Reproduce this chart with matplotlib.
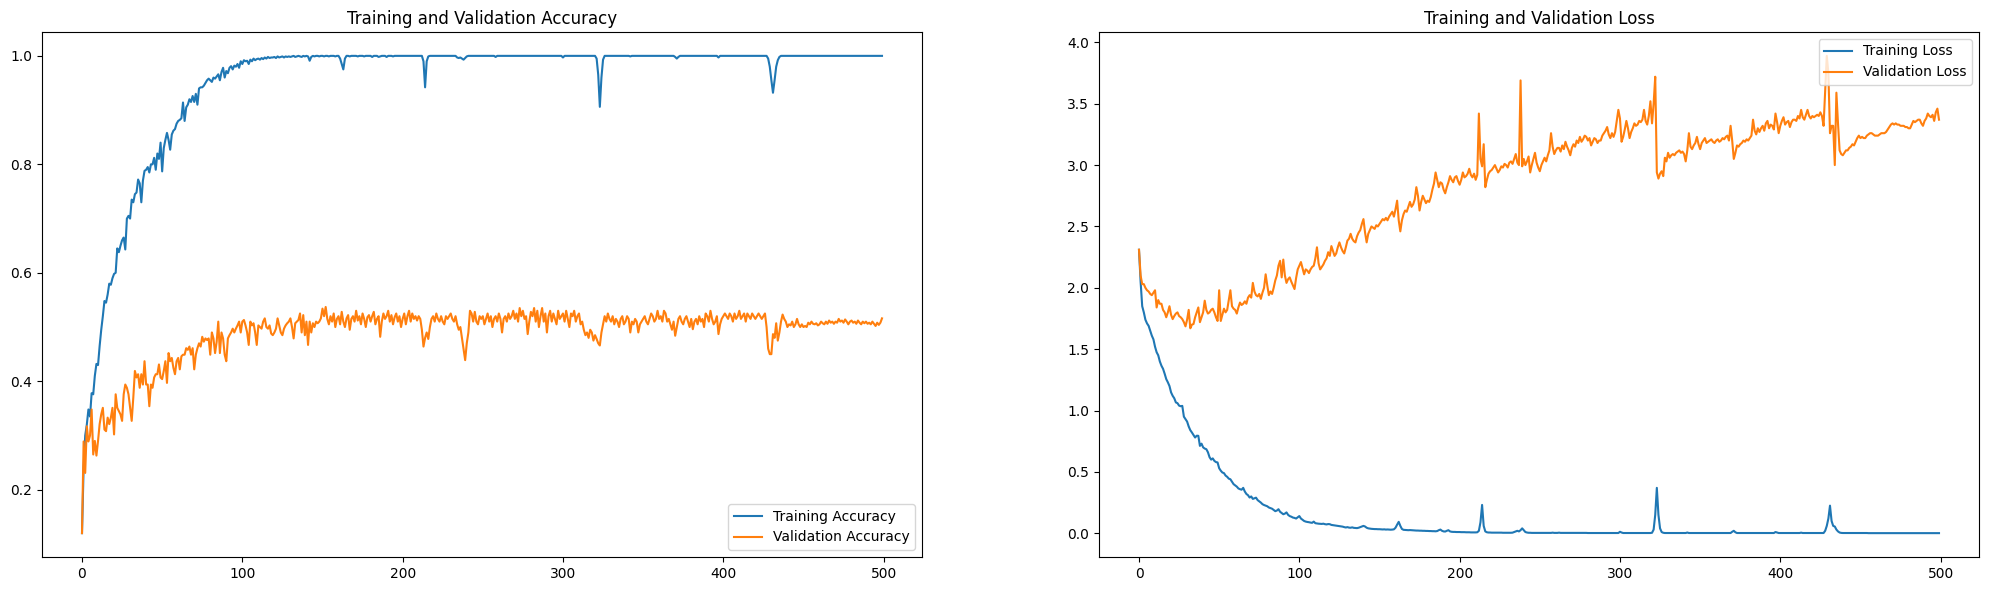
import numpy as np
import matplotlib
matplotlib.use('Agg')
import matplotlib.pyplot as plt

# values, one per epoch (500 epochs)
train_acc = [
    0.12, 0.24, 0.30, 0.32, 0.348, 0.335, 0.378, 0.376, 0.41, 0.432,
    0.43, 0.465, 0.495, 0.52, 0.548, 0.545, 0.56, 0.58, 0.578, 0.59,
    0.598, 0.60, 0.645, 0.638, 0.65, 0.66, 0.665, 0.643, 0.70, 0.705,
    0.70, 0.735, 0.73, 0.745, 0.748, 0.772, 0.765, 0.73, 0.77, 0.788,
    0.79, 0.795, 0.785, 0.80, 0.80, 0.812, 0.79, 0.82, 0.81, 0.84,
    0.787, 0.83, 0.845, 0.858, 0.845, 0.827, 0.855, 0.862, 0.865, 0.875,
    0.88, 0.882, 0.885, 0.914, 0.88, 0.905, 0.91, 0.92, 0.915, 0.926,
    0.915, 0.93, 0.91, 0.94, 0.942, 0.942, 0.945, 0.95, 0.955, 0.958,
    0.955, 0.952, 0.96, 0.958, 0.962, 0.966, 0.955, 0.97, 0.978, 0.96,
    0.972, 0.968, 0.978, 0.981, 0.975, 0.982, 0.98, 0.985, 0.978, 0.99,
    0.985, 0.992, 0.99, 0.991, 0.985, 0.993, 0.99, 0.995, 0.992, 0.994,
    0.995, 0.993, 0.996, 0.994, 0.997, 0.995, 0.998, 0.996, 0.997, 0.997,
    0.998, 0.996, 0.999, 0.997, 0.998, 0.999, 0.997, 0.999, 0.998, 0.999,
    0.998, 0.999, 1.0, 0.998, 0.999, 1.0, 0.999, 0.998, 1.0, 0.999,
    1.0, 0.999, 0.991, 0.998, 1.0, 0.999, 1.0, 1.0, 0.999, 1.0,
    1.0, 0.999, 1.0, 1.0, 0.999, 1.0, 1.0, 1.0, 0.999, 1.0,
    1.0, 0.995, 0.985, 0.975, 0.995, 1.0, 1.0, 0.999, 1.0, 1.0,
    1.0, 1.0, 0.999, 1.0, 1.0, 1.0, 0.999, 1.0, 1.0, 1.0,
    1.0, 0.998, 1.0, 1.0, 1.0, 0.998, 0.999, 1.0, 1.0, 1.0,
    0.998, 1.0, 1.0, 1.0, 0.999, 1.0, 1.0, 1.0, 1.0, 1.0,
    1.0, 1.0, 1.0, 1.0, 1.0, 1.0, 1.0, 1.0, 1.0, 1.0,
    1.0, 1.0, 1.0, 0.99, 0.942, 0.99, 0.999, 1.0, 1.0, 1.0,
    1.0, 1.0, 1.0, 1.0, 1.0, 1.0, 1.0, 1.0, 1.0, 1.0,
    1.0, 1.0, 1.0, 1.0, 0.997, 0.996, 0.997, 0.995, 0.993, 0.996,
    0.999, 1.0, 1.0, 1.0, 1.0, 1.0, 1.0, 1.0, 1.0, 1.0,
    1.0, 1.0, 1.0, 1.0, 1.0, 1.0, 1.0, 1.0, 0.998, 1.0,
    1.0, 1.0, 1.0, 1.0, 1.0, 1.0, 1.0, 1.0, 1.0, 1.0,
    1.0, 1.0, 1.0, 1.0, 1.0, 1.0, 1.0, 1.0, 1.0, 1.0,
    1.0, 1.0, 1.0, 1.0, 1.0, 1.0, 1.0, 1.0, 1.0, 1.0,
    1.0, 1.0, 1.0, 1.0, 1.0, 1.0, 1.0, 1.0, 1.0, 1.0,
    0.997, 1.0, 1.0, 1.0, 1.0, 1.0, 1.0, 1.0, 1.0, 1.0,
    1.0, 1.0, 1.0, 1.0, 1.0, 1.0, 1.0, 1.0, 1.0, 1.0,
    1.0, 0.995, 0.965, 0.906, 0.96, 0.993, 1.0, 1.0, 1.0, 1.0,
    1.0, 1.0, 1.0, 1.0, 1.0, 1.0, 1.0, 1.0, 1.0, 1.0,
    1.0, 1.0, 0.999, 1.0, 1.0, 1.0, 1.0, 1.0, 1.0, 1.0,
    1.0, 1.0, 1.0, 1.0, 1.0, 1.0, 1.0, 1.0, 1.0, 1.0,
    1.0, 1.0, 1.0, 1.0, 1.0, 1.0, 1.0, 1.0, 1.0, 1.0,
    0.998, 0.995, 0.998, 1.0, 1.0, 1.0, 1.0, 1.0, 1.0, 1.0,
    1.0, 1.0, 1.0, 1.0, 1.0, 1.0, 1.0, 1.0, 1.0, 1.0,
    1.0, 1.0, 1.0, 1.0, 1.0, 1.0, 1.0, 0.997, 1.0, 1.0,
    1.0, 1.0, 1.0, 1.0, 1.0, 1.0, 1.0, 1.0, 1.0, 1.0,
    1.0, 1.0, 1.0, 1.0, 1.0, 1.0, 1.0, 1.0, 1.0, 1.0,
    1.0, 1.0, 1.0, 1.0, 1.0, 1.0, 1.0, 1.0, 0.995, 0.98,
    0.955, 0.932, 0.955, 0.98, 0.992, 0.998, 1.0, 1.0, 1.0, 1.0,
    1.0, 1.0, 1.0, 1.0, 1.0, 1.0, 1.0, 1.0, 1.0, 1.0,
    1.0, 1.0, 1.0, 1.0, 1.0, 1.0, 1.0, 1.0, 1.0, 1.0,
    1.0, 1.0, 1.0, 1.0, 1.0, 1.0, 1.0, 1.0, 1.0, 1.0,
    1.0, 1.0, 1.0, 1.0, 1.0, 1.0, 1.0, 1.0, 1.0, 1.0,
    1.0, 1.0, 1.0, 1.0, 1.0, 1.0, 1.0, 1.0, 1.0, 1.0,
    1.0, 1.0, 1.0, 1.0, 1.0, 1.0, 1.0, 1.0, 1.0, 1.0,
]

val_acc = [
    0.12, 0.289, 0.231, 0.317, 0.289, 0.30, 0.348, 0.265, 0.29, 0.263,
    0.29, 0.321, 0.339, 0.351, 0.311, 0.308, 0.333, 0.321, 0.333, 0.351,
    0.302, 0.376, 0.351, 0.345, 0.339, 0.327, 0.376, 0.394, 0.388, 0.376,
    0.351, 0.327, 0.37, 0.419, 0.407, 0.413, 0.388, 0.413, 0.394, 0.437,
    0.394, 0.394, 0.354, 0.394, 0.388, 0.407, 0.413, 0.413, 0.431, 0.407,
    0.404, 0.419, 0.437, 0.397, 0.452, 0.437, 0.443, 0.425, 0.413, 0.437,
    0.443, 0.422, 0.446, 0.449, 0.449, 0.461, 0.458, 0.464, 0.449, 0.461,
    0.422, 0.449, 0.461, 0.47, 0.464, 0.482, 0.473, 0.479, 0.476, 0.479,
    0.449, 0.49, 0.479, 0.452, 0.473, 0.51, 0.452, 0.49, 0.479, 0.449,
    0.437, 0.479, 0.485, 0.49, 0.497, 0.49, 0.497, 0.503, 0.51, 0.49,
    0.51, 0.513, 0.503, 0.49, 0.467, 0.51, 0.503, 0.507, 0.49, 0.467,
    0.503, 0.5, 0.497, 0.51, 0.516, 0.5, 0.497, 0.503, 0.488, 0.485,
    0.49, 0.497, 0.516, 0.503, 0.49, 0.485, 0.497, 0.503, 0.507, 0.51,
    0.516, 0.5, 0.479, 0.507, 0.51, 0.513, 0.525, 0.49, 0.522, 0.485,
    0.51, 0.467, 0.51, 0.49, 0.507, 0.5, 0.51, 0.507, 0.51, 0.516,
    0.534, 0.52, 0.537, 0.515, 0.505, 0.52, 0.51, 0.525, 0.50, 0.515,
    0.52, 0.505, 0.528, 0.51, 0.50, 0.516, 0.522, 0.495, 0.515, 0.52,
    0.51, 0.53, 0.512, 0.52, 0.505, 0.525, 0.515, 0.50, 0.518, 0.522,
    0.51, 0.52, 0.528, 0.505, 0.515, 0.52, 0.482, 0.51, 0.525, 0.515,
    0.52, 0.53, 0.51, 0.522, 0.505, 0.518, 0.525, 0.51, 0.52, 0.50,
    0.515, 0.525, 0.505, 0.52, 0.53, 0.51, 0.525, 0.515, 0.52, 0.512,
    0.52, 0.515, 0.495, 0.464, 0.48, 0.49, 0.478, 0.50, 0.515, 0.52,
    0.51, 0.525, 0.515, 0.51, 0.52, 0.51, 0.505, 0.52, 0.515, 0.52,
    0.525, 0.515, 0.51, 0.52, 0.505, 0.495, 0.50, 0.48, 0.46, 0.439,
    0.47, 0.49, 0.53, 0.525, 0.51, 0.528, 0.51, 0.505, 0.52, 0.515,
    0.52, 0.505, 0.515, 0.525, 0.51, 0.52, 0.50, 0.515, 0.52, 0.51,
    0.525, 0.515, 0.49, 0.515, 0.52, 0.51, 0.525, 0.515, 0.52, 0.53,
    0.515, 0.525, 0.51, 0.535, 0.52, 0.53, 0.515, 0.52, 0.487, 0.51,
    0.528, 0.52, 0.535, 0.51, 0.53, 0.50, 0.52, 0.535, 0.51, 0.525,
    0.49, 0.52, 0.53, 0.51, 0.525, 0.515, 0.505, 0.53, 0.515, 0.52,
    0.525, 0.51, 0.53, 0.515, 0.50, 0.525, 0.52, 0.53, 0.51, 0.52,
    0.525, 0.505, 0.51, 0.495, 0.485, 0.49, 0.48, 0.495, 0.49, 0.475,
    0.485, 0.478, 0.47, 0.466, 0.49, 0.505, 0.52, 0.51, 0.525, 0.515,
    0.51, 0.52, 0.505, 0.515, 0.51, 0.50, 0.515, 0.52, 0.505, 0.51,
    0.52, 0.515, 0.49, 0.51, 0.505, 0.515, 0.51, 0.49, 0.505, 0.51,
    0.515, 0.52, 0.51, 0.505, 0.515, 0.525, 0.52, 0.51, 0.515, 0.53,
    0.515, 0.52, 0.51, 0.53, 0.525, 0.51, 0.515, 0.505, 0.495, 0.51,
    0.484, 0.50, 0.515, 0.52, 0.51, 0.505, 0.515, 0.52, 0.51, 0.50,
    0.515, 0.496, 0.51, 0.515, 0.505, 0.52, 0.51, 0.515, 0.50, 0.525,
    0.52, 0.51, 0.53, 0.515, 0.505, 0.51, 0.52, 0.487, 0.505, 0.515,
    0.52, 0.525, 0.52, 0.515, 0.525, 0.52, 0.51, 0.525, 0.515, 0.52,
    0.53, 0.515, 0.52, 0.525, 0.51, 0.525, 0.52, 0.515, 0.525, 0.52,
    0.515, 0.52, 0.525, 0.52, 0.515, 0.52, 0.525, 0.50, 0.46, 0.45,
    0.45, 0.487, 0.48, 0.507, 0.475, 0.49, 0.51, 0.523, 0.515, 0.51,
    0.50, 0.505, 0.503, 0.51, 0.50, 0.505, 0.515, 0.505, 0.50, 0.505,
    0.50, 0.502, 0.50, 0.508, 0.505, 0.51, 0.506, 0.505, 0.507, 0.503,
    0.505, 0.51, 0.507, 0.505, 0.51, 0.506, 0.512, 0.508, 0.51, 0.506,
    0.51, 0.508, 0.515, 0.51, 0.512, 0.508, 0.514, 0.51, 0.505, 0.51,
    0.512, 0.508, 0.51, 0.506, 0.512, 0.508, 0.505, 0.51, 0.507, 0.51,
    0.506, 0.508, 0.505, 0.51, 0.506, 0.502, 0.508, 0.504, 0.508, 0.516,
]

train_loss = [
    2.31, 2.05, 1.85, 1.80, 1.74, 1.71, 1.69, 1.65, 1.61, 1.58,
    1.52, 1.475, 1.45, 1.40, 1.365, 1.34, 1.30, 1.256, 1.23, 1.20,
    1.148, 1.12, 1.10, 1.066, 1.06, 1.04, 1.035, 1.038, 0.95, 0.93,
    0.91, 0.87, 0.84, 0.821, 0.80, 0.78, 0.795, 0.794, 0.712, 0.73,
    0.70, 0.69, 0.685, 0.66, 0.62, 0.60, 0.61, 0.59, 0.58, 0.577,
    0.53, 0.51, 0.495, 0.49, 0.47, 0.46, 0.445, 0.44, 0.42, 0.40,
    0.39, 0.38, 0.365, 0.359, 0.355, 0.37, 0.34, 0.32, 0.31, 0.291,
    0.30, 0.28, 0.285, 0.29, 0.27, 0.26, 0.25, 0.237, 0.23, 0.225,
    0.22, 0.21, 0.205, 0.20, 0.19, 0.18, 0.185, 0.196, 0.175, 0.165,
    0.155, 0.16, 0.17, 0.15, 0.14, 0.135, 0.128, 0.125, 0.12, 0.13,
    0.14, 0.12, 0.11, 0.10, 0.095, 0.092, 0.09, 0.087, 0.085, 0.095,
    0.082, 0.08, 0.078, 0.077, 0.076, 0.078, 0.074, 0.072, 0.075, 0.074,
    0.068, 0.066, 0.064, 0.062, 0.06, 0.058, 0.056, 0.054, 0.05, 0.047,
    0.05, 0.046, 0.045, 0.048, 0.044, 0.043, 0.042, 0.045, 0.05, 0.055,
    0.06, 0.055, 0.045, 0.04, 0.038, 0.036, 0.035, 0.034, 0.034, 0.033,
    0.033, 0.032, 0.031, 0.032, 0.030, 0.031, 0.030, 0.029, 0.030, 0.032,
    0.045, 0.07, 0.093, 0.06, 0.035, 0.028, 0.027, 0.026, 0.025, 0.026,
    0.025, 0.024, 0.023, 0.022, 0.022, 0.021, 0.021, 0.020, 0.020, 0.019,
    0.019, 0.018, 0.018, 0.017, 0.017, 0.016, 0.018, 0.025, 0.03, 0.02,
    0.015, 0.014, 0.02, 0.025, 0.015, 0.012, 0.011, 0.011, 0.010, 0.010,
    0.010, 0.009, 0.009, 0.009, 0.008, 0.008, 0.008, 0.007, 0.007, 0.007,
    0.007, 0.008, 0.02, 0.09, 0.231, 0.06, 0.015, 0.008, 0.006, 0.006,
    0.005, 0.005, 0.005, 0.005, 0.005, 0.005, 0.005, 0.004, 0.004, 0.004,
    0.004, 0.004, 0.004, 0.005, 0.01, 0.015, 0.02, 0.015, 0.025, 0.04,
    0.025, 0.01, 0.006, 0.004, 0.004, 0.003, 0.003, 0.003, 0.003, 0.003,
    0.003, 0.003, 0.003, 0.003, 0.003, 0.003, 0.003, 0.003, 0.005, 0.003,
    0.003, 0.003, 0.005, 0.003, 0.003, 0.003, 0.003, 0.003, 0.003, 0.003,
    0.003, 0.003, 0.003, 0.003, 0.003, 0.003, 0.003, 0.003, 0.003, 0.003,
    0.002, 0.002, 0.002, 0.002, 0.002, 0.002, 0.002, 0.002, 0.002, 0.002,
    0.002, 0.002, 0.002, 0.002, 0.002, 0.002, 0.002, 0.002, 0.002, 0.002,
    0.012, 0.006, 0.002, 0.002, 0.002, 0.002, 0.002, 0.002, 0.002, 0.002,
    0.002, 0.002, 0.002, 0.002, 0.002, 0.002, 0.002, 0.002, 0.002, 0.002,
    0.004, 0.03, 0.15, 0.37, 0.15, 0.04, 0.01, 0.004, 0.002, 0.002,
    0.002, 0.002, 0.002, 0.002, 0.002, 0.002, 0.002, 0.002, 0.002, 0.002,
    0.002, 0.002, 0.006, 0.002, 0.002, 0.002, 0.002, 0.002, 0.002, 0.002,
    0.002, 0.002, 0.002, 0.002, 0.002, 0.002, 0.002, 0.002, 0.002, 0.002,
    0.002, 0.002, 0.002, 0.002, 0.002, 0.002, 0.002, 0.002, 0.002, 0.002,
    0.012, 0.02, 0.008, 0.002, 0.002, 0.002, 0.002, 0.002, 0.002, 0.002,
    0.002, 0.002, 0.002, 0.002, 0.002, 0.002, 0.002, 0.002, 0.002, 0.002,
    0.002, 0.002, 0.002, 0.002, 0.002, 0.002, 0.002, 0.01, 0.006, 0.002,
    0.002, 0.002, 0.002, 0.002, 0.002, 0.002, 0.002, 0.002, 0.002, 0.002,
    0.002, 0.002, 0.002, 0.005, 0.002, 0.002, 0.002, 0.002, 0.002, 0.002,
    0.002, 0.002, 0.002, 0.002, 0.002, 0.002, 0.002, 0.002, 0.02, 0.06,
    0.12, 0.225, 0.1, 0.06, 0.055, 0.03, 0.015, 0.006, 0.003, 0.002,
    0.002, 0.002, 0.002, 0.002, 0.002, 0.002, 0.002, 0.002, 0.002, 0.002,
    0.002, 0.002, 0.002, 0.002, 0.002, 0.001, 0.001, 0.001, 0.001, 0.001,
    0.001, 0.001, 0.001, 0.001, 0.001, 0.001, 0.001, 0.001, 0.001, 0.001,
    0.001, 0.001, 0.001, 0.001, 0.001, 0.001, 0.001, 0.001, 0.001, 0.001,
    0.001, 0.001, 0.001, 0.001, 0.001, 0.001, 0.001, 0.001, 0.001, 0.001,
    0.001, 0.001, 0.001, 0.001, 0.001, 0.001, 0.001, 0.001, 0.001, 0.001,
]

val_loss = [
    2.31, 2.10, 2.03, 2.03, 2.00, 1.98, 1.97, 1.95, 1.94, 1.96,
    1.98, 1.84, 1.90, 1.87, 1.87, 1.82, 1.80, 1.76, 1.80, 1.85,
    1.78, 1.745, 1.77, 1.79, 1.80, 1.77, 1.76, 1.745, 1.72, 1.686,
    1.74, 1.82, 1.67, 1.70, 1.705, 1.76, 1.80, 1.84, 1.72, 1.76,
    1.80, 1.895, 1.82, 1.79, 1.80, 1.82, 1.83, 1.80, 1.76, 1.73,
    1.98, 1.73, 1.78, 1.83, 1.80, 1.82, 1.90, 1.98, 1.85, 1.83,
    1.82, 1.79, 1.84, 1.88, 1.86, 1.87, 1.89, 1.87, 1.92, 1.94,
    1.92, 2.04, 1.97, 1.94, 1.93, 1.95, 1.91, 1.96, 2.00, 2.11,
    2.02, 1.94, 1.97, 1.95, 2.00, 2.06, 2.10, 2.18, 2.22, 2.085,
    2.23, 2.10, 2.04, 2.07, 2.085, 2.05, 2.02, 1.99, 2.08, 2.15,
    2.18, 2.21, 2.16, 2.11, 2.15, 2.14, 2.12, 2.15, 2.17, 2.18,
    2.24, 2.33, 2.20, 2.15, 2.17, 2.19, 2.22, 2.24, 2.29, 2.26,
    2.34, 2.30, 2.26, 2.28, 2.33, 2.37, 2.33, 2.30, 2.28, 2.33,
    2.385, 2.40, 2.44, 2.40, 2.38, 2.37, 2.42, 2.45, 2.47, 2.52,
    2.56, 2.45, 2.37, 2.44, 2.47, 2.50, 2.49, 2.48, 2.51, 2.50,
    2.52, 2.54, 2.56, 2.55, 2.57, 2.55, 2.58, 2.60, 2.62, 2.58,
    2.64, 2.71, 2.55, 2.46, 2.55, 2.60, 2.63, 2.62, 2.66, 2.70,
    2.66, 2.68, 2.72, 2.82, 2.75, 2.63, 2.70, 2.75, 2.72, 2.69,
    2.71, 2.70, 2.74, 2.80, 2.85, 2.94, 2.88, 2.82, 2.86, 2.85,
    2.80, 2.77, 2.82, 2.86, 2.91, 2.88, 2.86, 2.90, 2.91, 2.87,
    2.84, 2.88, 2.94, 2.90, 2.91, 2.93, 2.97, 2.92, 2.90, 2.93,
    2.88, 2.92, 3.42, 3.05, 2.99, 3.17, 2.82, 2.88, 2.93, 2.95,
    2.96, 2.98, 3.00, 2.97, 2.94, 2.96, 2.99, 2.98, 3.01, 3.00,
    2.98, 3.02, 3.03, 3.01, 3.05, 3.09, 3.02, 3.00, 3.69, 2.99,
    3.05, 3.00, 3.03, 3.07, 2.94, 3.00, 3.05, 3.10, 3.02, 2.98,
    2.95, 3.00, 3.03, 3.06, 3.03, 3.08, 3.12, 3.26, 3.15, 3.09,
    3.12, 3.14, 3.14, 3.11, 3.16, 3.13, 3.19, 3.15, 3.12, 3.08,
    3.14, 3.17, 3.15, 3.20, 3.18, 3.23, 3.19, 3.21, 3.24, 3.23,
    3.20, 3.22, 3.16, 3.19, 3.22, 3.21, 3.18, 3.20, 3.20, 3.24,
    3.26, 3.28, 3.31, 3.25, 3.22, 3.26, 3.23, 3.27, 3.36, 3.45,
    3.38, 3.19, 3.23, 3.29, 3.36, 3.30, 3.22, 3.27, 3.30, 3.34,
    3.32, 3.33, 3.36, 3.35, 3.37, 3.45, 3.36, 3.33, 3.40, 3.52,
    3.34, 3.50, 3.72, 2.94, 2.89, 2.93, 2.95, 2.91, 3.06, 3.03,
    3.10, 3.06, 3.08, 3.09, 3.08, 3.10, 3.11, 3.12, 3.10, 3.11,
    3.09, 3.03, 3.12, 3.26, 3.15, 3.13, 3.16, 3.18, 3.23, 3.17,
    3.13, 3.18, 3.20, 3.22, 3.18, 3.19, 3.20, 3.21, 3.19, 3.18,
    3.20, 3.21, 3.19, 3.20, 3.22, 3.21, 3.23, 3.24, 3.20, 3.32,
    3.20, 3.05, 3.10, 3.16, 3.15, 3.17, 3.18, 3.20, 3.19, 3.21,
    3.20, 3.22, 3.24, 3.37, 3.28, 3.25, 3.30, 3.27, 3.30, 3.32,
    3.28, 3.34, 3.36, 3.30, 3.33, 3.32, 3.29, 3.42, 3.35, 3.26,
    3.32, 3.36, 3.39, 3.33, 3.35, 3.36, 3.31, 3.35, 3.37, 3.37,
    3.36, 3.40, 3.38, 3.45, 3.39, 3.37, 3.41, 3.45, 3.40, 3.38,
    3.40, 3.39, 3.40, 3.41, 3.40, 3.43, 3.40, 3.32, 3.60, 3.89,
    3.75, 3.26, 3.32, 3.32, 3.00, 3.59, 3.34, 3.12, 3.09, 3.08,
    3.10, 3.12, 3.12, 3.14, 3.15, 3.17, 3.16, 3.19, 3.22, 3.24,
    3.22, 3.23, 3.22, 3.22, 3.24, 3.25, 3.26, 3.26, 3.25, 3.24,
    3.24, 3.24, 3.25, 3.26, 3.26, 3.26, 3.27, 3.29, 3.31, 3.33,
    3.34, 3.33, 3.34, 3.33, 3.33, 3.32, 3.32, 3.32, 3.31, 3.31,
    3.30, 3.30, 3.33, 3.36, 3.35, 3.36, 3.37, 3.37, 3.34, 3.32,
    3.36, 3.38, 3.42, 3.40, 3.39, 3.41, 3.36, 3.43, 3.46, 3.37,
]

W, H = 1989, 591
fig = plt.figure(figsize=(W/100, H/100), dpi=100)

ax1 = fig.add_axes([42/W, 34/H, 880/W, 525/H])
ax1.plot(np.arange(len(train_acc)), train_acc, label='Training Accuracy')
ax1.plot(np.arange(len(val_acc)), val_acc, label='Validation Accuracy')
ax1.legend(loc='lower right')
ax1.set_title('Training and Validation Accuracy')

ax2 = fig.add_axes([1099/W, 34/H, 880/W, 525/H])
ax2.plot(np.arange(len(train_loss)), train_loss, label='Training Loss')
ax2.plot(np.arange(len(val_loss)), val_loss, label='Validation Loss')
ax2.legend(loc='upper right')
ax2.set_title('Training and Validation Loss')

fig.savefig('out.png', dpi=100)
